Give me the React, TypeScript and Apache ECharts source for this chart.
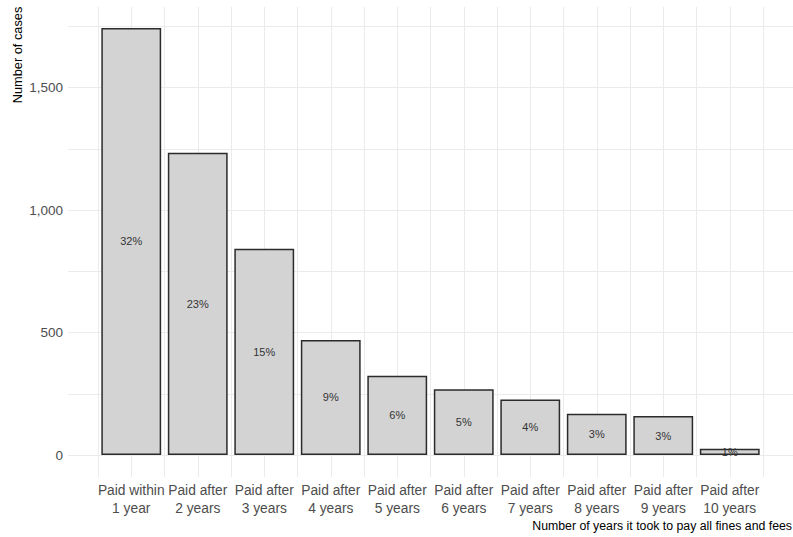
import React, { useEffect, useRef } from "react";
import * as echarts from "echarts";

const categories = [
  "Paid within\n1 year",
  "Paid after\n2 years",
  "Paid after\n3 years",
  "Paid after\n4 years",
  "Paid after\n5 years",
  "Paid after\n6 years",
  "Paid after\n7 years",
  "Paid after\n8 years",
  "Paid after\n9 years",
  "Paid after\n10 years",
];
const cases = [1744, 1234, 842, 470, 324, 268, 227, 168, 159, 26];
const pctLabels = ["32%", "23%", "15%", "9%", "6%", "5%", "4%", "3%", "3%", "1%"];
const yTicks = [0, 500, 1000, 1500];

const FONT = "'Liberation Sans', Arial, sans-serif";

export default function App() {
  const ref = useRef<HTMLDivElement>(null);
  useEffect(() => {
    if (!ref.current) return;
    const chart = echarts.init(ref.current, null, { renderer: "svg" });
    const pxPerUnit = 0.2449;
    const bTop = 7;
    const bBottomPx = 477;
    const zeroPx = 455;
    const yMaxB = (zeroPx - bTop) / pxPerUnit;
    const yMinB = -(bBottomPx - zeroPx) / pxPerUnit;
    const gridColor = "#ebebeb";
    chart.setOption({
      animation: false,
      backgroundColor: "#ffffff",
      grid: [
        { left: 68, right: 0, top: zeroPx - 1750 * pxPerUnit, bottom: 537 - zeroPx },
        { left: 98, right: 30, top: bTop, bottom: 537 - bBottomPx },
      ],
      xAxis: [
        { type: "value", gridIndex: 0, show: false },
        {
          type: "category",
          gridIndex: 1,
          data: categories,
          axisLine: { show: false },
          axisTick: { show: false },
          splitLine: { show: false },
          axisLabel: {
            interval: 0,
            margin: 4,
            color: "#4d4d4d",
            fontFamily: FONT,
            fontSize: 13.8,
            lineHeight: 18,
          },
        },
        {
          type: "value",
          gridIndex: 1,
          min: 0,
          max: 20,
          interval: 1,
          axisLine: { show: false },
          axisTick: { show: false },
          axisLabel: { show: false },
          splitLine: { show: true, lineStyle: { color: gridColor, width: 1 } },
        },
      ],
      yAxis: [
        {
          type: "value",
          gridIndex: 0,
          min: 0,
          max: 1750,
          interval: 250,
          axisLine: { show: false },
          axisTick: { show: false },
          splitLine: { show: true, lineStyle: { color: gridColor, width: 1 } },
          axisLabel: {
            margin: 5,
            color: "#4d4d4d",
            fontFamily: FONT,
            fontSize: 13.5,
            formatter: (v: number) =>
              yTicks.includes(v) ? v.toLocaleString("en-US") : "",
          },
        },
        {
          type: "value",
          gridIndex: 1,
          min: yMinB,
          max: yMaxB,
          show: false,
        },
      ],
      graphic: [
        {
          type: "text",
          x: 17.5,
          y: 55,
          rotation: Math.PI / 2,
          style: {
            text: "Number of cases",
            fill: "#000000",
            font: `12.8px ${FONT}`,
            align: "center",
            verticalAlign: "middle",
          },
        },
        {
          type: "text",
          x: 792,
          y: 526,
          style: {
            text: "Number of years it took to pay all fines and fees",
            fill: "#000000",
            font: `12.3px ${FONT}`,
            align: "right",
            verticalAlign: "middle",
          },
        },
      ],
      series: [
        {
          type: "bar",
          xAxisIndex: 1,
          yAxisIndex: 1,
          data: cases,
          barCategoryGap: "10%",
          itemStyle: { color: "#d3d3d3", borderColor: "#2b2b2b", borderWidth: 1.5 },
          label: {
            show: true,
            position: "inside",
            color: "#333333",
            fontFamily: FONT,
            fontSize: 11,
            formatter: (p: any) => pctLabels[p.dataIndex],
          },
        },
      ],
    });
    return () => chart.dispose();
  }, []);
  return (
    <div
      ref={ref}
      style={{ position: "fixed", left: 0, top: 0, width: 793, height: 537 }}
    />
  );
}
